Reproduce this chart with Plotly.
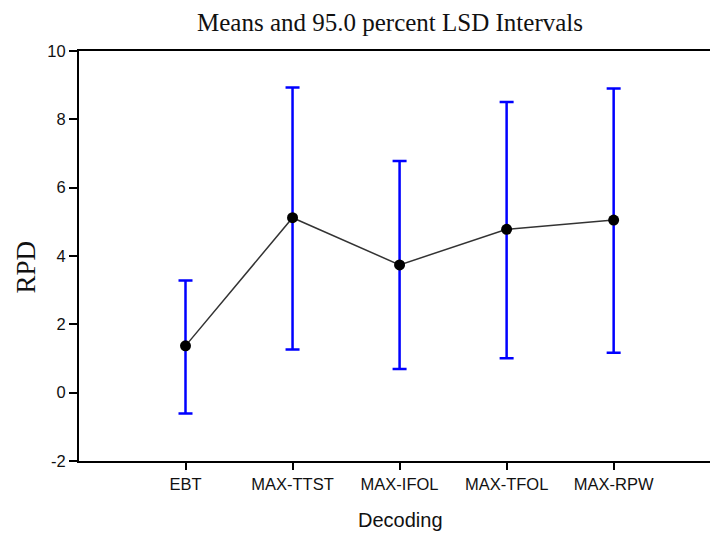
import plotly.graph_objects as go

categories = ["EBT", "MAX-TTST", "MAX-IFOL", "MAX-TFOL", "MAX-RPW"]
means = [1.37, 5.12, 3.74, 4.78, 5.05]
lower = [-0.61, 1.26, 0.69, 1.01, 1.17]
upper = [3.28, 8.93, 6.78, 8.51, 8.90]
y_ticks = [-2, 0, 2, 4, 6, 8, 10]
y_tick_labels = ["-2", "0", "2", "4", "6", "8", "10"]

positions = list(range(len(categories)))
err_plus = [u - m for u, m in zip(upper, means)]
err_minus = [m - l for m, l in zip(means, lower)]

fig = go.Figure()
fig.add_trace(go.Scatter(
    x=positions, y=means,
    mode="lines+markers",
    line=dict(color="#333333", width=1.5),
    marker=dict(color="black", size=11),
    error_y=dict(type="data", symmetric=False, array=err_plus, arrayminus=err_minus,
                 color="#0000ff", thickness=2.5, width=7),
    showlegend=False,
))

fig.update_layout(
    width=710, height=533,
    margin=dict(l=79, r=0, t=51, b=72),
    paper_bgcolor="white", plot_bgcolor="white",
    title=dict(text="Means and 95.0 percent LSD Intervals",
               font=dict(family="Liberation Serif", size=25, color="#111111"),
               x=(390 - 79) / 631, xref="paper", xanchor="center",
               y=1 - 22 / 533, yref="container", yanchor="middle"),
    xaxis=dict(range=[-0.995, 4.9], tickvals=positions, ticktext=categories,
               showline=True, linecolor="black", linewidth=2, mirror=True,
               ticks="outside", ticklen=7, tickwidth=1.5, tickcolor="black",
               showgrid=False, zeroline=False,
               tickfont=dict(family="Arial, Liberation Sans", size=16.5, color="#111111")),
    yaxis=dict(range=[-2, 10], tickvals=y_ticks, ticktext=y_tick_labels,
               showline=True, linecolor="black", linewidth=2,
               ticks="outside", ticklen=8, tickwidth=1.5, tickcolor="black",
               showgrid=False, zeroline=False,
               tickfont=dict(family="Arial, Liberation Sans", size=16.5, color="#111111")),
    annotations=[
        dict(text="RPD", textangle=-90, xref="paper", yref="paper",
             x=(25 - 79) / 631, y=(461 - 267.5) / 410, xanchor="center", yanchor="middle",
             showarrow=False, font=dict(family="Liberation Serif", size=27, color="#111111")),
        dict(text="Decoding", xref="paper", yref="paper",
             x=(400 - 79) / 631, y=(461 - 520) / 410, xanchor="center", yanchor="middle",
             showarrow=False, font=dict(family="Arial, Liberation Sans", size=20, color="#111111")),
    ],
)

fig.write_html("out.html", config={"displayModeBar": False},
               post_script="document.body.style.margin='0';")
